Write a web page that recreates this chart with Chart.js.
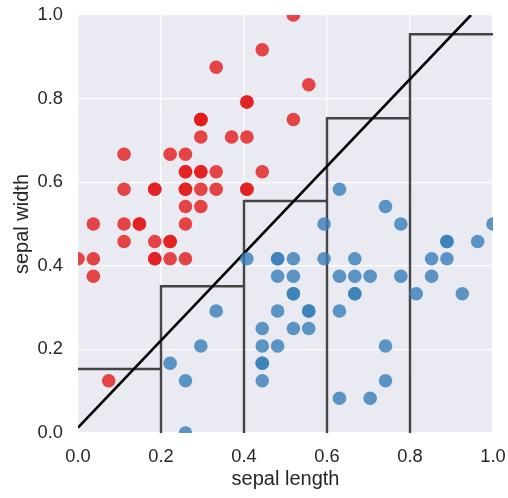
<!DOCTYPE html>
<html>
<head>
<meta charset="utf-8">
<script src="https://cdn.jsdelivr.net/npm/chart.js@4.4.1/dist/chart.umd.min.js"></script>
<style>
  html, body { margin: 0; padding: 0; background: #fff; }
  #wrap { width: 508px; height: 498px; }
</style>
</head>
<body>
<div id="wrap"><canvas id="irisChart" width="508" height="498"></canvas></div>
<script>
// normalised sepal length / width, first two classes
const setosaX = [0.296, 0.222, 0.148, 0.111, 0.259, 0.407, 0.111, 0.259, 0.037, 0.222,
                 0.407, 0.185, 0.185, 0.000, 0.556, 0.519, 0.407, 0.296, 0.519, 0.296,
                 0.407, 0.296, 0.111, 0.296, 0.185, 0.259, 0.259, 0.333, 0.333, 0.148,
                 0.185, 0.407, 0.333, 0.444, 0.222, 0.259, 0.444, 0.222, 0.037, 0.296,
                 0.259, 0.074, 0.037, 0.259, 0.296, 0.185, 0.296, 0.111, 0.370, 0.259];
const setosaY = [0.625, 0.417, 0.500, 0.458, 0.667, 0.792, 0.583, 0.583, 0.375, 0.458,
                 0.708, 0.583, 0.417, 0.417, 0.833, 1.000, 0.792, 0.625, 0.750, 0.750,
                 0.583, 0.708, 0.667, 0.542, 0.583, 0.417, 0.583, 0.625, 0.583, 0.500,
                 0.458, 0.583, 0.875, 0.917, 0.458, 0.500, 0.625, 0.667, 0.417, 0.583,
                 0.625, 0.125, 0.500, 0.625, 0.750, 0.417, 0.750, 0.500, 0.708, 0.542];
const versiX = [1.000, 0.778, 0.963, 0.444, 0.815, 0.519, 0.741, 0.222, 0.852, 0.333,
                0.259, 0.593, 0.630, 0.667, 0.481, 0.889, 0.481, 0.556, 0.704, 0.481,
                0.593, 0.667, 0.741, 0.667, 0.778, 0.852, 0.926, 0.889, 0.630, 0.519,
                0.444, 0.444, 0.556, 0.630, 0.407, 0.630, 0.889, 0.741, 0.481, 0.444,
                0.444, 0.667, 0.556, 0.259, 0.481, 0.519, 0.519, 0.704, 0.296, 0.519];
const versiY = [0.500, 0.500, 0.458, 0.125, 0.333, 0.333, 0.542, 0.167, 0.375, 0.292,
                0.000, 0.417, 0.083, 0.375, 0.375, 0.458, 0.417, 0.292, 0.083, 0.208,
                0.500, 0.333, 0.208, 0.333, 0.375, 0.417, 0.333, 0.417, 0.375, 0.250,
                0.167, 0.167, 0.292, 0.292, 0.417, 0.583, 0.458, 0.125, 0.417, 0.208,
                0.250, 0.417, 0.250, 0.125, 0.292, 0.417, 0.375, 0.375, 0.208, 0.333];

// step boundary: bin edges and the height of each bin
const stepEdges = [0.0, 0.2, 0.4, 0.6, 0.8, 1.0];
const stepHeights = [0.153, 0.351, 0.555, 0.753, 0.954];

// straight separating line, two end points
const lineX = [0.0, 0.947];
const lineY = [0.013, 1.0];

const tickValues = [0.0, 0.2, 0.4, 0.6, 0.8, 1.0];

const zip = (xs, ys) => xs.map((x, i) => ({ x: x, y: ys[i] }));

function stepPath() {
    const pts = [];
    for (let i = 0; i < stepHeights.length; i++) {
        if (i > 0) {
            pts.push({ x: stepEdges[i], y: 0 });
        }
        pts.push({ x: stepEdges[i], y: stepHeights[i] });
        pts.push({ x: stepEdges[i + 1], y: stepHeights[i] });
    }
    return pts;
}

const plotBg = {
    id: 'plotBg',
    beforeDraw(chart) {
        const { ctx, chartArea: a } = chart;
        ctx.save();
        ctx.fillStyle = '#eaeaf2';
        ctx.fillRect(a.left, a.top, a.right - a.left, a.bottom - a.top);
        ctx.restore();
    }
};

const textColor = '#262626';
const fontFamily = '"Liberation Sans", Arial, sans-serif';

new Chart(document.getElementById('irisChart').getContext('2d'), {
    type: 'scatter',
    data: {
        datasets: [
            {
                label: 'setosa',
                data: zip(setosaX, setosaY),
                backgroundColor: 'rgba(228, 26, 28, 0.8)',
                borderWidth: 0,
                pointRadius: 6.8,
                order: 1
            },
            {
                label: 'versicolor',
                data: zip(versiX, versiY),
                backgroundColor: 'rgba(55, 126, 184, 0.8)',
                borderWidth: 0,
                pointRadius: 6.8,
                order: 1
            },
            {
                type: 'line',
                label: 'line',
                data: zip(lineX, lineY),
                borderColor: '#000000',
                borderWidth: 2.6,
                pointRadius: 0,
                tension: 0,
                fill: false,
                order: 2
            },
            {
                type: 'line',
                label: 'steps',
                data: stepPath(),
                borderColor: 'rgba(60, 60, 60, 0.95)',
                borderWidth: 2.4,
                pointRadius: 0,
                tension: 0,
                fill: false,
                order: 3
            }
        ]
    },
    options: {
        responsive: false,
        animation: false,
        layout: { padding: { left: 0, right: 15, top: 15, bottom: 0 } },
        plugins: {
            legend: { display: false },
            tooltip: { enabled: false }
        },
        scales: {
            x: {
                type: 'linear',
                min: 0,
                max: 1,
                afterBuildTicks: (s) => { s.ticks = tickValues.map(v => ({ value: v })); },
                afterFit: (s) => {
                    s.height = 65;
                    s.paddingLeft = 0;
                    s.paddingRight = 0;
                },
                border: { display: false },
                grid: { color: '#ffffff', lineWidth: 1.3, drawTicks: false },
                ticks: {
                    padding: 12.5,
                    color: textColor,
                    font: { family: fontFamily, size: 18.3 },
                    callback: (v) => Number(v).toFixed(1)
                },
                title: {
                    display: true,
                    text: 'sepal length',
                    color: textColor,
                    font: { family: fontFamily, size: 20 },
                    padding: { top: 0, bottom: 7 }
                }
            },
            y: {
                type: 'linear',
                min: 0,
                max: 1,
                afterBuildTicks: (s) => { s.ticks = tickValues.map(v => ({ value: v })); },
                afterFit: (s) => {
                    s.width = 78;
                    s.paddingTop = 0;
                    s.paddingBottom = 0;
                },
                border: { display: false },
                grid: { color: '#ffffff', lineWidth: 1.3, drawTicks: false },
                ticks: {
                    padding: 15,
                    color: textColor,
                    font: { family: fontFamily, size: 18.3 },
                    callback: (v) => Number(v).toFixed(1)
                },
                title: {
                    display: true,
                    text: 'sepal width',
                    color: textColor,
                    font: { family: fontFamily, size: 20 },
                    padding: { top: 10.5, bottom: 0 }
                }
            }
        }
    },
    plugins: [plotBg]
});
</script>
</body>
</html>
